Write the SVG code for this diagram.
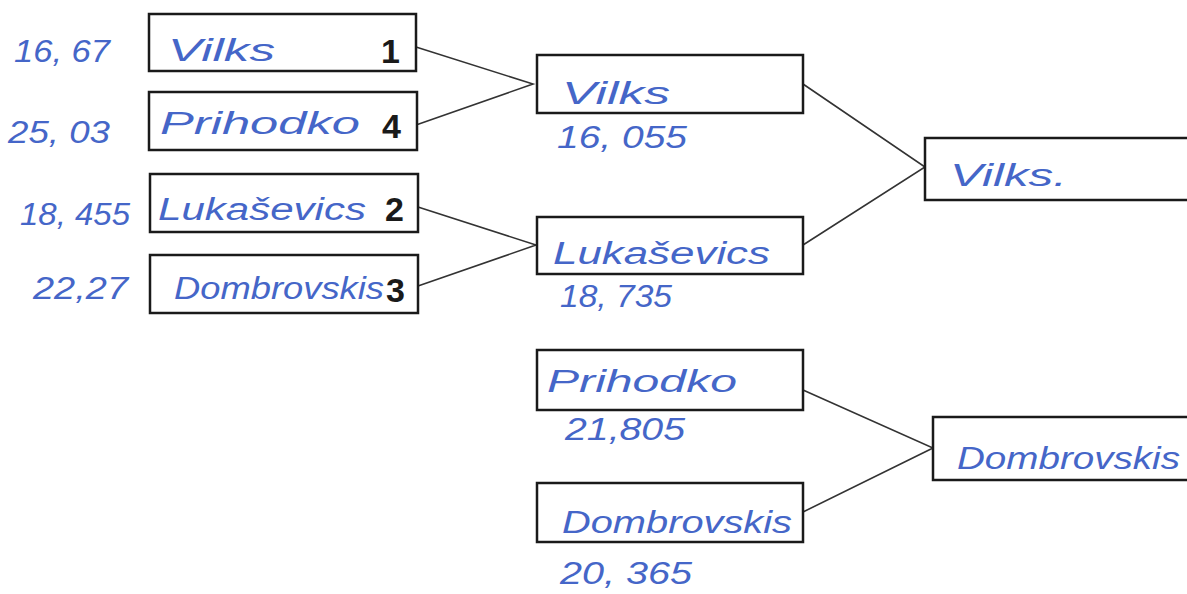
<svg xmlns="http://www.w3.org/2000/svg" width="1187" height="594" viewBox="0 0 1187 594">
<style>
.box{fill:#fff;stroke:#1a1a1a;stroke-width:2.5}
.hw{font-family:"Liberation Sans",Arial,sans-serif;font-style:italic;fill:#4566c8;font-size:31px}
.sc{font-family:"Liberation Sans",Arial,sans-serif;font-style:italic;fill:#4566c8;font-size:31px}
.seed{font-family:"Liberation Sans",Arial,sans-serif;font-weight:bold;fill:#1a1a1a;font-size:34px}
.con{fill:none;stroke:#333;stroke-width:1.6}
</style>
<rect width="1187" height="594" fill="#fff"/>
<g id="connectors">
<polyline class="con" points="416,47 533,84 416,125"/>
<polyline class="con" points="418,207 536,245 418,286"/>
<polyline class="con" points="803,84 925,167 803,245"/>
<polyline class="con" points="803,390 933,448 803,512"/>
</g>
<g id="r1-vilks">
<rect class="box" x="149" y="14" width="267" height="57"/>
<text class="hw" x="168" y="61" textLength="107" lengthAdjust="spacingAndGlyphs">Vilks</text>
<text class="seed" x="381" y="63">1</text>
<text class="sc" x="14" y="62" textLength="96" lengthAdjust="spacingAndGlyphs">16, 67</text>
</g>
<g id="r1-prihodko">
<rect class="box" x="149" y="92" width="268" height="58"/>
<text class="hw" x="160" y="134" textLength="200" lengthAdjust="spacingAndGlyphs">Prihodko</text>
<text class="seed" x="382" y="138">4</text>
<text class="sc" x="8" y="143" textLength="102" lengthAdjust="spacingAndGlyphs">25, 03</text>
</g>
<g id="r1-lukasevics">
<rect class="box" x="150" y="174" width="268" height="58"/>
<text class="hw" x="158" y="220" textLength="208" lengthAdjust="spacingAndGlyphs">Lukaševics</text>
<text class="seed" x="385" y="221">2</text>
<text class="sc" x="20" y="225" textLength="110" lengthAdjust="spacingAndGlyphs">18, 455</text>
</g>
<g id="r1-dombrovskis">
<rect class="box" x="150" y="255" width="268" height="58"/>
<text class="hw" x="174" y="299" textLength="210" lengthAdjust="spacingAndGlyphs">Dombrovskis</text>
<text class="seed" x="386" y="302">3</text>
<text class="sc" x="33" y="299" textLength="95" lengthAdjust="spacingAndGlyphs">22,27</text>
</g>
<g id="r2-vilks">
<rect class="box" x="537" y="55" width="266" height="58"/>
<text class="hw" x="562" y="104" textLength="108" lengthAdjust="spacingAndGlyphs">Vilks</text>
<text class="sc" x="557" y="148" textLength="130" lengthAdjust="spacingAndGlyphs">16, 055</text>
</g>
<g id="r2-lukasevics">
<rect class="box" x="537" y="217" width="266" height="57"/>
<text class="hw" x="553" y="264" textLength="217" lengthAdjust="spacingAndGlyphs">Lukaševics</text>
<text class="sc" x="560" y="307" textLength="112" lengthAdjust="spacingAndGlyphs">18, 735</text>
</g>
<g id="r2-prihodko">
<rect class="box" x="537" y="350" width="266" height="60"/>
<text class="hw" x="547" y="392" textLength="190" lengthAdjust="spacingAndGlyphs">Prihodko</text>
<text class="sc" x="565" y="440" textLength="120" lengthAdjust="spacingAndGlyphs">21,805</text>
</g>
<g id="r2-dombrovskis">
<rect class="box" x="537" y="483" width="266" height="59"/>
<text class="hw" x="562" y="533" textLength="230" lengthAdjust="spacingAndGlyphs">Dombrovskis</text>
<text class="sc" x="560" y="584" textLength="132" lengthAdjust="spacingAndGlyphs">20, 365</text>
</g>
<g id="final-vilks">
<rect class="box" x="925" y="138" width="270" height="62"/>
<text class="hw" x="950" y="186" textLength="117" lengthAdjust="spacingAndGlyphs">Vilks.</text>
</g>
<g id="final-dombrovskis">
<rect class="box" x="933" y="417" width="270" height="63"/>
<text class="hw" x="957" y="469" textLength="223" lengthAdjust="spacingAndGlyphs">Dombrovskis</text>
</g>
</svg>
